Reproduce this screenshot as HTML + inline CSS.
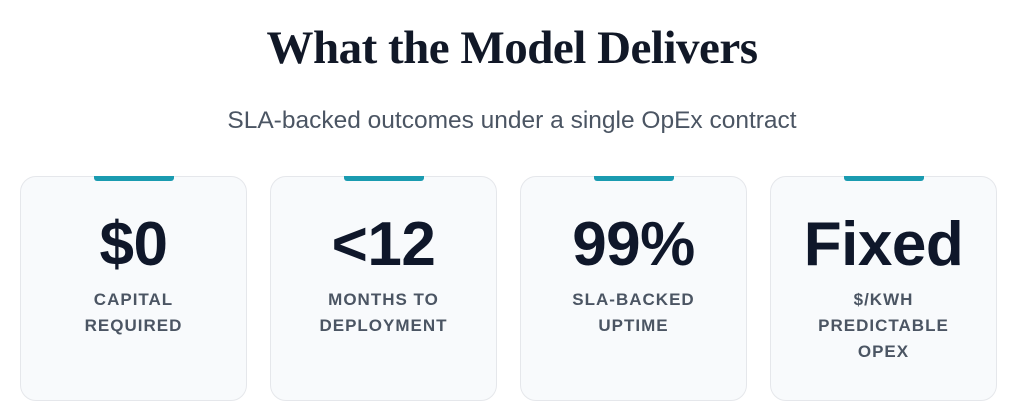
<!DOCTYPE html>
<html><head><style>
body{margin:0;width:1024px;height:418px;background:#fff;font-family:"Liberation Sans",sans-serif;position:relative;overflow:hidden}
h1{position:absolute;top:21px;left:0;width:1024px;text-align:center;margin:0;font-family:"Liberation Serif",serif;font-weight:bold;font-size:47px;color:#111827;letter-spacing:-0.5px}
.sub{position:absolute;top:107px;left:0;width:1024px;text-align:center;font-size:24.5px;color:#4b5563}
.card{position:absolute;top:176px;width:225px;height:223px;border:1px solid #e5e7eb;border-radius:16px;background:#f8fafc;text-align:center}
.bar{position:absolute;top:-1px;left:73px;width:80px;height:5px;background:#1a9bb0;border-radius:0 0 3px 3px}
.num{margin-top:38px;font-size:62px;font-weight:900;color:#0f172a;line-height:60px;letter-spacing:-0.5px}
.lbl{margin-top:12px;font-size:17px;font-weight:bold;color:#4b5563;letter-spacing:1px;line-height:26px}
</style></head><body>
<h1>What the Model Delivers</h1>
<div class="sub">SLA-backed outcomes under a single OpEx contract</div>
<div class="card" style="left:20px"><div class="bar"></div><div class="num">$0</div><div class="lbl">CAPITAL<br>REQUIRED</div></div>
<div class="card" style="left:270px"><div class="bar"></div><div class="num">&lt;12</div><div class="lbl">MONTHS TO<br>DEPLOYMENT</div></div>
<div class="card" style="left:520px"><div class="bar"></div><div class="num">99%</div><div class="lbl">SLA-BACKED<br>UPTIME</div></div>
<div class="card" style="left:770px"><div class="bar"></div><div class="num">Fixed</div><div class="lbl">$/KWH<br>PREDICTABLE<br>OPEX</div></div>
</body></html>
